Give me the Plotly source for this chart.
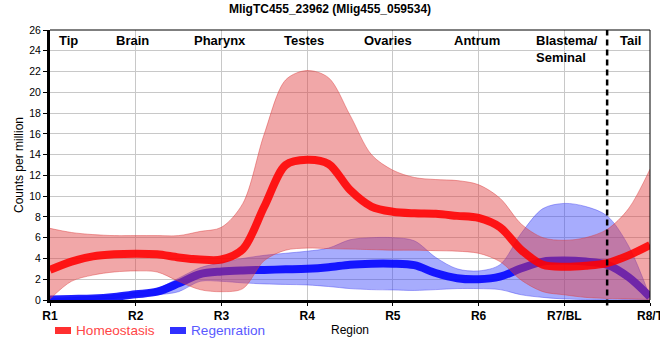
import plotly.graph_objects as go

# ---------------- data ----------------
regions = ["R1", "R2", "R3", "R4", "R5", "R6", "R7/BL", "R8/T"]
region_idx = [0, 1, 2, 3, 4, 5, 6, 7]
tissues = ["Tip", "Brain", "Pharynx", "Testes", "Ovaries", "Antrum", "Blastema/<br>Seminal", "Tail"]
tissue_pos = [0.22, 0.965, 1.98, 2.96, 3.94, 4.98, 5.65, 6.77]
boundary_pos = 6.5

pos = [0, 0.25, 0.5, 0.75, 1, 1.25, 1.5, 1.75, 2, 2.25, 2.5, 2.75, 3, 3.25, 3.5,
       3.75, 4, 4.25, 4.5, 4.75, 5, 5.25, 5.5, 5.75, 6, 6.25, 6.5, 6.75, 7]

homeo_mean = [2.9, 3.7, 4.2, 4.4, 4.45, 4.4, 4.1, 3.9, 3.9, 4.9, 9.0, 13.0, 13.5, 13.1, 10.6,
              9.0, 8.5, 8.35, 8.3, 8.1, 7.9, 7.0, 4.8, 3.4, 3.2, 3.3, 3.55, 4.3, 5.3]
homeo_upper = [6.9, 6.5, 6.3, 6.2, 6.2, 6.2, 6.2, 6.6, 7.0, 9.3, 16.0, 21.2, 22.1, 21.4, 17.8,
               14.0, 12.5, 11.8, 11.6, 11.5, 11.1, 9.8, 7.3, 6.0, 5.75, 6.0, 6.8, 8.8, 12.6]
homeo_lower = [0.1, 1.8, 2.4, 2.7, 2.8, 2.7, 1.8, 1.0, 0.8, 1.1, 3.8, 4.8, 5.0, 4.95, 4.9,
               4.85, 4.8, 4.8, 4.75, 4.7, 4.5, 3.7, 1.9, 0.8, 0.5, 0.25, 0.15, 0.1, 0.05]

regen_mean = [0.05, 0.1, 0.15, 0.3, 0.55, 0.8, 1.6, 2.5, 2.75, 2.85, 2.9, 2.95, 3.0, 3.15, 3.4,
              3.5, 3.5, 3.35, 2.6, 2.1, 2.0, 2.25, 3.05, 3.7, 3.8, 3.7, 3.4, 2.2, 0.3]
regen_upper = [0.15, 0.25, 0.35, 0.5, 0.75, 1.1, 2.1, 3.1, 3.6, 4.0, 4.3, 4.5, 4.7, 5.0, 5.8,
               6.0, 6.0, 5.7, 4.1, 3.0, 2.8, 3.4, 6.45, 8.8, 9.3, 9.0, 8.1, 5.2, 0.3]
regen_lower = [0.0, 0.0, 0.05, 0.15, 0.35, 0.5, 0.8, 1.8, 1.8, 1.65, 1.55, 1.5, 1.45, 1.3, 1.1,
               1.0, 0.97, 0.92, 1.0, 1.1, 1.1, 1.0, 0.5, 0.25, 0.1, 0.05, 0.02, 0.0, 0.0]

FONT = "Arial, 'Liberation Sans', sans-serif"
SMOOTH = 0.9

fig = go.Figure()

def add_band(upper, lower, fillcol, edgecol):
    fig.add_trace(go.Scatter(x=pos, y=upper, mode="lines",
                             line=dict(color=edgecol, width=1, shape="spline", smoothing=SMOOTH),
                             showlegend=False, hoverinfo="skip"))
    fig.add_trace(go.Scatter(x=pos, y=lower, mode="lines", fill="tonexty", fillcolor=fillcol,
                             line=dict(color=edgecol, width=1, shape="spline", smoothing=SMOOTH),
                             showlegend=False, hoverinfo="skip"))

# Regeneration first (drawn beneath homeostasis)
add_band(regen_upper, regen_lower, "rgba(55,65,250,0.44)", "rgba(70,70,240,0.45)")
fig.add_trace(go.Scatter(x=pos, y=regen_mean, mode="lines", name="Regenration",
                         line=dict(color="rgba(0,0,255,0.88)", width=8, shape="spline", smoothing=SMOOTH),
                         showlegend=False))
add_band(homeo_upper, homeo_lower, "rgba(225,60,62,0.45)", "rgba(220,60,60,0.45)")
fig.add_trace(go.Scatter(x=pos, y=homeo_mean, mode="lines", name="Homeostasis",
                         line=dict(color="rgba(255,0,0,0.88)", width=8, shape="spline", smoothing=SMOOTH),
                         showlegend=False))

annotations = []
for name, xp in zip(tissues, tissue_pos):
    blast = "Blastema" in name
    annotations.append(dict(x=xp, xref="x", y=1, yref="paper", yanchor="top",
                            xanchor="left" if blast else "center", align="left",
                            yshift=-1, text="<b>%s</b>" % name, showarrow=False,
                            font=dict(family=FONT, size=13, color="black")))

# legend (swatches + labels)
annotations.append(dict(x=(74 - 50) / 600, y=(300 - 331) / 270, xref="paper", yref="paper",
                        xanchor="left", yanchor="middle", text="Homeostasis", showarrow=False,
                        font=dict(family=FONT, size=13.6, color="#ff4646")))
annotations.append(dict(x=(189 - 50) / 600, y=(300 - 331) / 270, xref="paper", yref="paper",
                        xanchor="left", yanchor="middle", text="Regenration", showarrow=False,
                        font=dict(family=FONT, size=13.6, color="#5a5aff")))

shapes = [
    # legend swatches
    dict(type="rect", xref="paper", yref="paper", x0=(55 - 50) / 600, x1=(71 - 50) / 600,
         y0=(300 - 334) / 270, y1=(300 - 327) / 270, fillcolor="#ff3030", line=dict(width=0)),
    dict(type="rect", xref="paper", yref="paper", x0=(170 - 50) / 600, x1=(186 - 50) / 600,
         y0=(300 - 334) / 270, y1=(300 - 327) / 270, fillcolor="#3030ff", line=dict(width=0)),
    # boundary dashed line
    dict(type="line", xref="x", yref="paper", x0=boundary_pos, x1=boundary_pos, y0=-0.02, y1=1,
         line=dict(color="black", width=2.5, dash="6px,4px")),
    # top and right frame
    dict(type="line", xref="paper", yref="paper", x0=0, x1=1, y0=1, y1=1,
         line=dict(color="black", width=1)),
    dict(type="line", xref="paper", yref="paper", x0=1, x1=1, y0=0, y1=1,
         line=dict(color="black", width=1)),
]

fig.update_layout(
    width=660, height=360,
    margin=dict(l=50, r=10, t=30, b=60),
    paper_bgcolor="white", plot_bgcolor="white",
    title=dict(text="<b>MligTC455_23962 (Mlig455_059534)</b>", x=0.5, xanchor="center",
               y=1 - 9 / 360, yanchor="middle", font=dict(family=FONT, size=12, color="black")),
    showlegend=False,
    annotations=annotations,
    shapes=shapes,
    xaxis=dict(range=[0, 7], tickmode="array", tickvals=region_idx,
               ticktext=["<b>%s</b>" % r for r in regions], ticklabeloverflow="allow",
               showgrid=True, gridcolor="#c8c8c8", gridwidth=1, zeroline=False,
               showline=True, linecolor="black", linewidth=3, ticks="outside", ticklen=3,
               tickcolor="black", tickwidth=1, automargin=False,
               tickfont=dict(family=FONT, size=12, color="black"),
               title=dict(text="Region", standoff=4, font=dict(family=FONT, size=12, color="black"))),
    yaxis=dict(range=[0, 26], tickmode="linear", tick0=0, dtick=2,
               showgrid=True, gridcolor="#c8c8c8", gridwidth=1, zeroline=False,
               showline=True, linecolor="black", linewidth=3, ticks="outside", ticklen=4,
               tickcolor="black", tickwidth=1, automargin=False,
               tickfont=dict(family=FONT, size=10.5, color="black"),
               title=dict(text="Counts per million", standoff=4,
                          font=dict(family=FONT, size=12, color="black"))),
)

fig.write_html("out.html", config={"displayModeBar": False},
               post_script="document.body.style.margin='0';")
